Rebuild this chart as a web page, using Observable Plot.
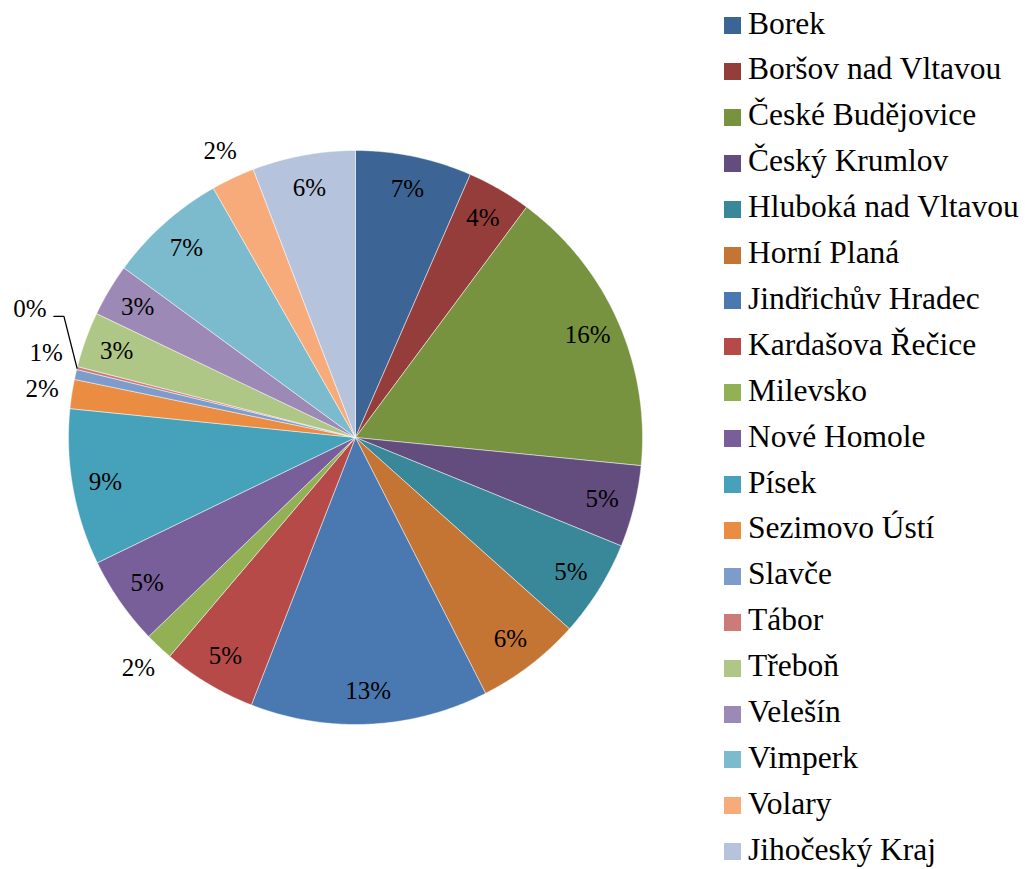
<!DOCTYPE html>
<html>
<head>
<meta charset="utf-8">
<script src="https://cdn.jsdelivr.net/npm/d3@7"></script>
<script src="https://cdn.jsdelivr.net/npm/@observablehq/plot@0.6"></script>
<style>
  html, body { margin: 0; padding: 0; background: #fff; }
  #wrap { position: relative; width: 1025px; height: 869px; overflow: hidden; }
  .ser { font-family: 'Liberation Serif'; }
</style>
</head>
<body>
<div id="wrap" class="ser"><div id="chart" style="position:absolute;left:0;top:0"></div></div>
<script>
const categories = ["Borek", "Boršov nad Vltavou", "České Budějovice", "Český Krumlov", "Hluboká nad Vltavou", "Horní Planá", "Jindřichův Hradec", "Kardašova Řečice", "Milevsko", "Nové Homole", "Písek", "Sezimovo Ústí", "Slavče", "Tábor", "Třeboň", "Velešín", "Vimperk", "Volary", "Jihočeský Kraj"];
const values = [6.55, 3.62, 16.4, 4.6, 5.45, 5.9, 13.4, 5.3, 1.6, 5.0, 8.8, 1.64, 0.56, 0.17, 3.13, 2.96, 6.69, 2.45, 5.8];
const colors = ["#3C6595", "#953D3B", "#77933F", "#634C7E", "#398899", "#C47534", "#4A78B0", "#B54A48", "#92B155", "#785F9A", "#46A2BA", "#EA8D43", "#7E9CCB", "#CC7B79", "#AFC786", "#9C89B5", "#7CBACD", "#F7AB7A", "#B6C3DD"];

const W = 1025, H = 869;
const R = 287;          // pie radius in px
const cx = 355, cy = 437;
const px = 1 / R;       // one pixel in data units

const total = d3.sum(values);
const arcs = d3.pie().sort(null).value(d => d)(values);

// slice polygons
const sliceRows = [];
arcs.forEach((a, i) => {
  const name = categories[i];
  sliceRows.push({name, x: 0, y: 0});
  const n = Math.max(2, Math.ceil((a.endAngle - a.startAngle) / (Math.PI / 360)));
  for (let k = 0; k <= n; k++) {
    const t = a.startAngle + (a.endAngle - a.startAngle) * k / n;
    sliceRows.push({name, x: Math.sin(t), y: Math.cos(t)});
  }
  sliceRows.push({name, x: 0, y: 0});
});

// labels
const labelRows = [];
const outside = [];
arcs.forEach((a, i) => {
  const pct = values[i] / total * 100;
  const mid = (a.startAngle + a.endAngle) / 2;
  const text = Math.round(pct) + "%";
  if (pct >= 2.5) {
    const r = 254 * px;
    labelRows.push({text, x: Math.sin(mid) * r, y: Math.cos(mid) * r});
  } else {
    const r = (R + 30) * px;
    outside.push({i, text, mid, x: Math.sin(mid) * r, y: Math.cos(mid) * r, y0: Math.cos(mid) * r});
  }
});
// simple collision avoidance for outside labels (in slice order)
const placed = [];
const gap = 36 * px;
outside.forEach(o => {
  for (let iter = 0; iter < 20; iter++) {
    let moved = false;
    for (const p of placed) {
      if (Math.abs(p.x - o.x) < 45 * px && Math.abs(p.y - o.y) < gap - 1e-6) {
        o.y = (o.y0 >= 0) ? p.y + gap : p.y - gap;
        moved = true;
      }
    }
    if (!moved) break;
  }
  placed.push(o);
});
const leaderRows = [];
outside.forEach(o => {
  if (Math.abs(o.y - o.y0) > 25 * px) {
    const left = o.x < 0;
    o.x += (left ? -18 : 18) * px;
    o.y += 8 * px;
    const halfW = 17 * px;
    const sx = o.x + (left ? halfW + 7 * px : -(halfW + 7 * px));
    const sy = o.y - 7 * px;
    const hx = sx + (left ? 10 * px : -10 * px);
    leaderRows.push({id: o.i, x: sx, y: sy});
    leaderRows.push({id: o.i, x: hx, y: sy});
    leaderRows.push({id: o.i, x: Math.sin(o.mid), y: Math.cos(o.mid)});
  }
  labelRows.push({text: o.text, x: o.x, y: o.y});
});

const chart = Plot.plot({
  width: W,
  height: H,
  marginLeft: cx - R,
  marginRight: W - (cx + R),
  marginTop: cy - R,
  marginBottom: H - (cy + R),
  x: {domain: [-1, 1], axis: null},
  y: {domain: [-1, 1], axis: null},
  color: {domain: categories, range: colors},
  style: {background: "white"},
  marks: [
    Plot.line(sliceRows, {x: "x", y: "y", z: "name", fill: "name", stroke: "#ffffff", strokeWidth: 0.6, strokeOpacity: 0.8, curve: "linear"}),
    Plot.line(leaderRows, {x: "x", y: "y", z: "id", stroke: "black", strokeWidth: 1.3, curve: "linear"}),
    Plot.text(labelRows, {x: "x", y: "y", text: "text", fill: "black", fontSize: 25, fontFamily: "Liberation Serif", textAnchor: "middle", lineAnchor: "middle"})
  ]
});
document.getElementById("chart").appendChild(chart);

// legend: one absolutely positioned row per category
const wrap = document.getElementById("wrap");
const rowH = 45.9, top0 = 25.5;
categories.forEach((c, i) => {
  const yc = top0 + i * rowH;
  const sw = document.createElement("div");
  sw.style.cssText = `position:absolute;left:724px;top:${yc - 8.5}px;width:17px;height:17px;background:${colors[i]}`;
  wrap.appendChild(sw);
  const t = document.createElement("div");
  t.style.cssText = `position:absolute;left:748px;top:${yc - 20}px;font-size:31.5px;line-height:36px;white-space:nowrap;color:#000;font-family:'Liberation Serif'`;
  t.textContent = c;
  wrap.appendChild(t);
});
</script>
</body>
</html>
